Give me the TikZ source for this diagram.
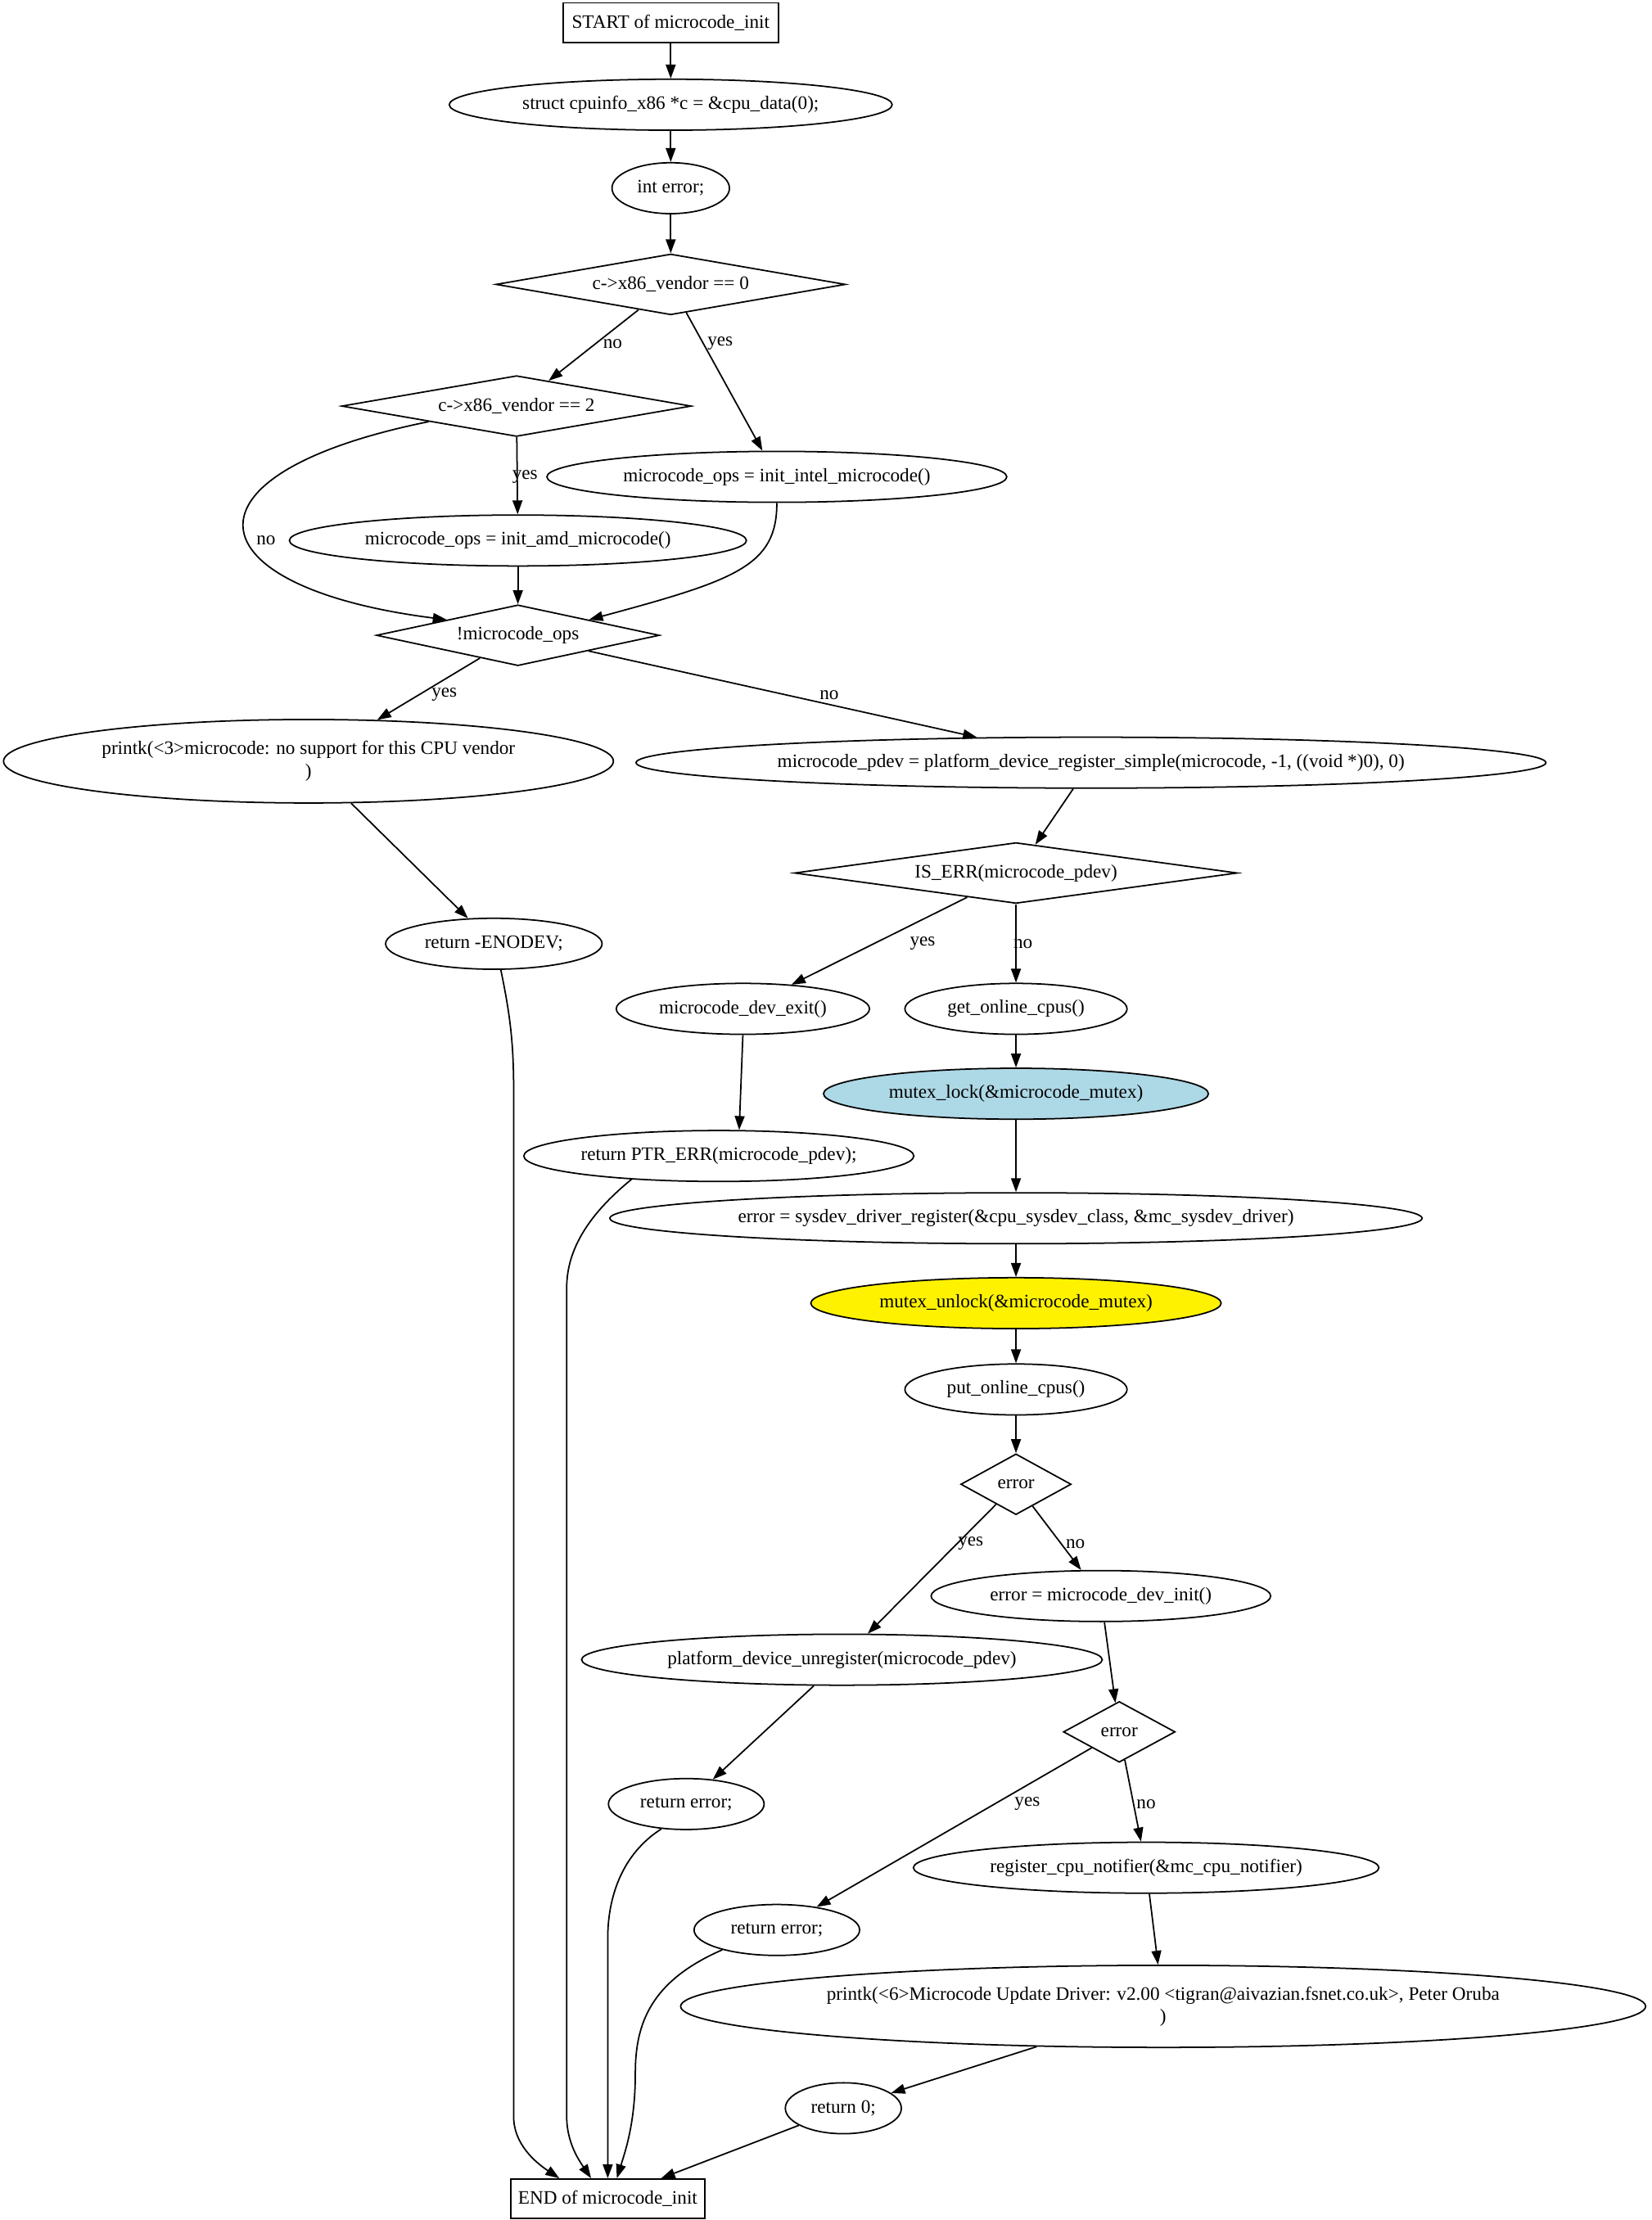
\documentclass[tikz,border=0pt]{standalone}
\usepackage{fontspec}
\setmainfont{Liberation Serif}
\usepackage{tikz}
\usetikzlibrary{shapes.geometric}
\usetikzlibrary{arrows.meta}

\newlength\ux
\setlength\ux{0.017284cm}
\definecolor{lightblue}{HTML}{ADD8E6}

\begin{document}
\begin{tikzpicture}[x=0.017284cm,y=-0.017284cm,line width=0.5pt,
	every node/.style={font=\fontsize{6.6}{7.8}\selectfont},
	box/.style={draw,rectangle,inner sep=0pt,minimum height=28\ux},
	ell/.style={draw,ellipse,inner sep=0pt,minimum height=36\ux},
	cond/.style={draw,diamond,inner sep=0pt,minimum height=43\ux},
	lbl/.style={inner sep=0pt},
	arr/.style={-{Triangle[length=0.17cm,width=0.12cm]}}]
	\useasboundingbox (0,0) rectangle (1167,1569);

	\node[box,minimum width=152\ux](start) at (474,16) {START of microcode\_init};
	\node[ell,minimum width=313\ux](cpuinfo) at (474,74) {struct cpuinfo\_x86 *c = \&cpu\_data(0);};
	\node[ell,minimum width=83\ux](interr) at (474,133) {int error;};
	\node[cond,minimum width=247\ux,shape aspect=5.9](vendor0) at (474,201) {c->x86\_vendor == 0};
	\node[cond,minimum width=247\ux,shape aspect=5.9](vendor2) at (365,287) {c->x86\_vendor == 2};
	\node[ell,minimum width=325\ux](intel) at (549,337) {microcode\_ops = init\_intel\_microcode()};
	\node[ell,minimum width=323\ux](amd) at (366,382) {microcode\_ops = init\_amd\_microcode()};
	\node[cond,minimum width=200\ux,shape aspect=4.6](noops) at (366,449) {!microcode\_ops};
	\node[ell,minimum width=431\ux,minimum height=59\ux,align=center](nosupport) at (218,538) {printk(<3>microcode: no support for this CPU vendor\\)};
	\node[ell,minimum width=643\ux](pdev) at (771,539) {microcode\_pdev = platform\_device\_register\_simple(microcode, -1, ((void *)0), 0)};
	\node[cond,minimum width=313\ux,shape aspect=7](iserr) at (718,617) {IS\_ERR(microcode\_pdev)};
	\node[ell,minimum width=153\ux](enodev) at (349,667) {return -ENODEV;};
	\node[ell,minimum width=179\ux](devexit) at (525,713) {microcode\_dev\_exit()};
	\node[ell,minimum width=157\ux](getcpus) at (718,713) {get\_online\_cpus()};
	\node[ell,fill=lightblue,minimum width=272\ux](lock) at (718,773) {mutex\_lock(\&microcode\_mutex)};
	\node[ell,minimum width=265\ux](ptrerr) at (508,817) {return PTR\_ERR(microcode\_pdev);};
	\node[ell,minimum width=574\ux](sysdev) at (718,861) {error = sysdev\_driver\_register(\&cpu\_sysdev\_class, \&mc\_sysdev\_driver)};
	\node[ell,fill=yellow,minimum width=290\ux](unlock) at (718,921) {mutex\_unlock(\&microcode\_mutex)};
	\node[ell,minimum width=157\ux](putcpus) at (718,982) {put\_online\_cpus()};
	\node[cond,minimum width=78\ux,shape aspect=1.8](err1) at (718,1049) {error};
	\node[ell,minimum width=240\ux](devinit) at (778,1128) {error = microcode\_dev\_init()};
	\node[ell,minimum width=368\ux](unreg) at (595,1173) {platform\_device\_unregister(microcode\_pdev)};
	\node[cond,minimum width=79\ux,shape aspect=1.8](err2) at (791,1224) {error};
	\node[ell,minimum width=110\ux](ret1) at (485,1275) {return error;};
	\node[ell,minimum width=329\ux](notifier) at (810,1320) {register\_cpu\_notifier(\&mc\_cpu\_notifier)};
	\node[ell,minimum width=117\ux](ret2) at (549,1364) {return error;};
	\node[ell,minimum width=682\ux,minimum height=58\ux,align=center](banner) at (822,1418) {printk(<6>Microcode Update Driver: v2.00 <tigran@aivazian.fsnet.co.uk>, Peter Oruba\\)};
	\node[ell,minimum width=82\ux](ret0) at (596,1490) {return 0;};
	\node[box,minimum width=137\ux](finish) at (429.5,1554) {END of microcode\_init};

	% branch labels
	\node[lbl](no1) at (433,243) {no};
	\node[lbl](yes1) at (509,243) {yes};
	\node[lbl](yes2) at (371,337) {yes};
	\node[lbl](no2) at (188,382) {no};
	\node[lbl](yes3) at (314,491) {yes};
	\node[lbl](no3) at (586,491) {no};
	\node[lbl](yes4) at (652,667) {yes};
	\node[lbl](no4) at (723,667) {no};
	\node[lbl](yes5) at (686,1091) {yes};
	\node[lbl](no5) at (760,1091) {no};
	\node[lbl](yes6) at (726,1275) {yes};
	\node[lbl](no6) at (810,1275) {no};

	\draw[arr] (start) -- (cpuinfo);
	\draw[arr] (cpuinfo) -- (interr);
	\draw[arr] (interr) -- (vendor0);
	\draw[arr] (vendor0) -- (vendor2);
	\draw[arr] (vendor0) -- (intel);
	\draw[arr] (vendor2) -- (amd);
	\draw[arr] (vendor2.south west) .. controls (120,335) and (135,415) .. (noops.north west);
	\draw[arr] (amd) -- (noops);
	\draw[arr] (intel.south) .. controls (549,400) and (520,410) .. (noops.north east);
	\draw[arr] (noops) -- (nosupport);
	\draw[arr] (noops) -- (pdev);
	\draw[arr] (nosupport) -- (enodev);
	\draw[arr] (pdev) -- (iserr);
	\draw[arr] (iserr) -- (devexit);
	\draw[arr] (iserr) -- (getcpus);
	\draw[arr] (getcpus) -- (lock);
	\draw[arr] (devexit.south) -- (ptrerr.52);
	\draw[arr] (lock) -- (sysdev);
	\draw[arr] (sysdev) -- (unlock);
	\draw[arr] (unlock) -- (putcpus);
	\draw[arr] (putcpus) -- (err1);
	\draw[arr] (err1) -- (unreg);
	\draw[arr] (err1) -- (devinit);
	\draw[arr] (devinit) -- (err2);
	\draw[arr] (unreg) -- (ret1);
	\draw[arr] (err2) -- (ret2);
	\draw[arr] (err2) -- (notifier);
	\draw[arr] (notifier) -- (banner);
	\draw[arr] (banner) -- (ret0);
	\draw[arr] (ret0) -- (finish);

	% returns running down to the end box
	\draw[arr] (enodev.285) .. controls (360,715) and (363,735) .. (363,770) -- (363,1496) .. controls (363,1515) and (378,1528) .. (finish.157);
	\draw[arr] (ptrerr.195) .. controls (420,855) and (400.5,880) .. (400.5,910) -- (400.5,1496) .. controls (400.5,1515) and (410,1528) .. (finish.129);
	\draw[arr] (ret1.225) .. controls (440,1310) and (429.5,1340) .. (429.5,1370) -- (finish.north);
	\draw[arr] (ret2.200) .. controls (460,1400) and (449,1430) .. (449,1465) .. controls (449,1500) and (442,1520) .. (finish.66);
\end{tikzpicture}
\end{document}
